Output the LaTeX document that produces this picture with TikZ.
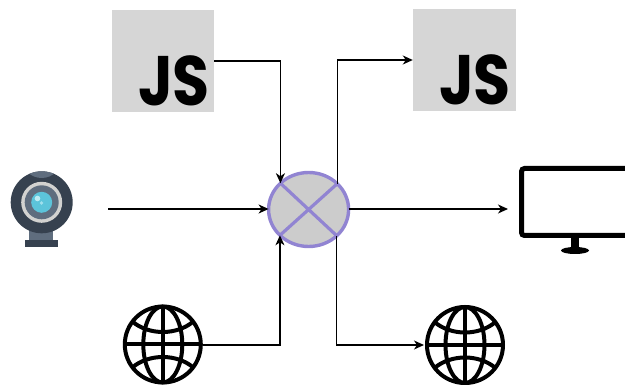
\documentclass[tikz,border=0pt]{standalone}
\usepackage{fontspec}
\setmainfont{Poppins}
\usetikzlibrary{arrows.meta,shapes.geometric}
\definecolor{jsgrey}{HTML}{D6D6D6}
\definecolor{mixfill}{HTML}{CCCCCC}
\definecolor{mixline}{HTML}{9184D2}
\definecolor{camdark}{HTML}{36414F}
\definecolor{cammid}{HTML}{5F6D7E}
\definecolor{camring}{HTML}{D2D2D0}
\definecolor{camblue}{HTML}{5CC4DA}
\definecolor{camlight}{HTML}{BDEBF3}
\tikzset{
  jsbox/.style={fill=jsgrey,minimum width=102,minimum height=102,inner sep=0},
  jstext/.style={font=\fontsize{70}{70}\bfseries\selectfont,text=black,inner sep=0,anchor=base east,xscale=0.86},
  mixer/.style={ellipse,draw=mixline,fill=mixfill,line width=3.4,minimum width=80,minimum height=74,inner sep=0,outer sep=0},
  mixcross/.style={draw=mixline,line width=3.2},
  link/.style={draw=black,line width=1.4,-{Stealth[length=10,width=9,inset=3]}},
  holder/.style={minimum width=78,minimum height=78,inner sep=0},
  globeline/.style={draw=black,line width=4},
  pics/globe/.style={code={
    \draw[globeline] (0,0) circle[radius=38];
    \draw[globeline] (0,0) ellipse[x radius=19.5,y radius=38];
    \draw[globeline] (0,-38) -- (0,38) (-38,0) -- (38,0);
    \draw[globeline] (-30.5,-23) .. controls (-14,-9) and (14,-9) .. (30.5,-23);
    \draw[globeline] (-30.5,23) .. controls (-14,9) and (14,9) .. (30.5,23);
  }}
}
\begin{document}
\begin{tikzpicture}[x=1pt,y=-1pt]
\useasboundingbox (0,0) rectangle (625,385);
% webcam
\fill[cammid] (29,230) rectangle (53,241);
\fill[camdark] (25,240.5) rectangle (57.5,247);
\fill[camdark] (41.7,202.3) circle[radius=31];
\begin{scope}
\clip (41.7,202.3) circle[radius=31];
\fill[cammid] (41.7,158) circle[radius=20];
\end{scope}
\fill[camring] (41.7,202.3) circle[radius=20.5];
\fill[cammid] (41.7,202.3) circle[radius=17];
\fill[camblue] (41.7,202.3) circle[radius=10.5];
\fill[camlight] (37.5,198.5) circle[radius=2.8];
\fill[camlight!70!camblue] (41.5,203) circle[radius=1.8];
\node[holder] (cam) at (41.7,209) {};
% monitor
\fill[black] (571,236) rectangle (579,250);
\fill[black] (575,250.5) ellipse[x radius=14,y radius=3.5];
\draw[black,line width=5,fill=white,rounded corners=3] (521.5,168.5) rectangle (640,235.5);
\node[holder,minimum width=30] (mon) at (523,209) {};
% globes
\pic at (162.8,344.5) {globe};
\pic at (465,345) {globe};
\node[holder] (g1) at (164,345) {};
\node[holder] (g2) at (463,345) {};
% js
\node[jsbox] (js1) at (163,61) {};
\node[jsbox,minimum width=103] (js2) at (464.5,60) {};
\node[jstext] at (210,105.5) {JS};
\node[jstext] at (511,104.5) {JS};
% connectors
\node[mixer] (mix) at (308.6,209.5) {};
\draw[mixcross] (mix.42.5) -- (mix.222.5) (mix.137.5) -- (mix.317.5);
\coordinate (camout) at (108,209);
\coordinate (monin) at (508,209);
\coordinate (g2in) at (424,345);
\coordinate (g1out) at (203,345);
\draw[link] (camout) -- (mix.west |- camout);
\draw[link] (mix.east |- monin) -- (monin);
\draw[link] (js1.east |- 0,61) -| (mix.137.5);
\draw[link] (g1out) -| (mix.222.5);
\draw[link] (mix.42.5) |- (js2.west);
\draw[link] (mix.317.5) |- (g2in);
\end{tikzpicture}
\end{document}
